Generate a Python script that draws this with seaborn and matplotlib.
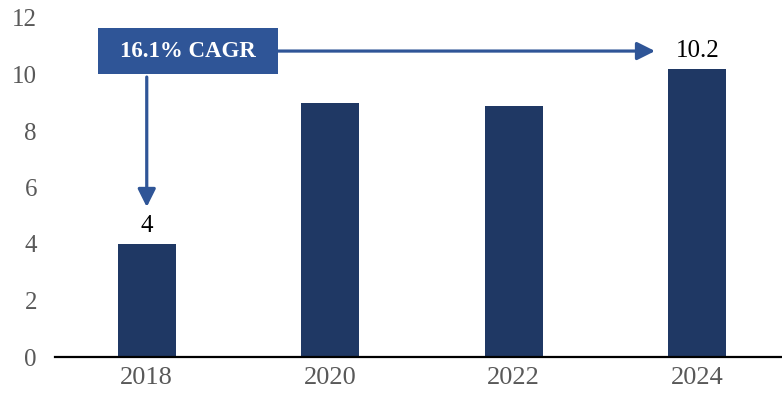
import matplotlib
matplotlib.use("Agg")
import matplotlib.pyplot as plt
import seaborn as sns
import pandas as pd
from matplotlib.patches import Rectangle

years = ["2018", "2020", "2022", "2024"]
values = [4.0, 9.0, 8.9, 10.2]
labels = {0: "4", 3: "10.2"}
cagr_text = "16.1% CAGR"
yticks = [0, 2, 4, 6, 8, 10, 12]

sns.set_theme(style="white")
plt.rcParams["font.family"] = ["Liberation Serif", "DejaVu Serif"]

df = pd.DataFrame({"year": years, "value": values})

fig = plt.figure(figsize=(7.82, 3.94), dpi=100)
ax = fig.add_axes([55 / 782, 37 / 394, 734 / 782, 339 / 394])

sns.barplot(data=df, x="year", y="value", color="#1F3864", width=0.316,
            saturation=1, linewidth=0, ax=ax)

ax.set_xlim(-0.5, 3.5)
ax.set_ylim(0, 12)
ax.set_yticks(yticks)
ax.set_xlabel("")
ax.set_ylabel("")
for s in ["left", "right", "top"]:
    ax.spines[s].set_visible(False)
ax.spines["bottom"].set_color("black")
ax.spines["bottom"].set_linewidth(1.6)
ax.tick_params(axis="both", length=0, labelcolor="#595959")
ax.tick_params(axis="y", pad=13, labelsize=18)
ax.tick_params(axis="x", pad=7, labelsize=19)

for i, txt in labels.items():
    ax.text(i, values[i] + 0.62, txt, ha="center", va="center",
            fontsize=18, color="black")

# CAGR box
box_x0, box_x1 = -0.266, 0.715
box_yc, box_h = 10.83, 1.6
ax.add_patch(Rectangle((box_x0, box_yc - box_h / 2), box_x1 - box_x0, box_h,
                       facecolor="#2F5597", edgecolor="none", zorder=4,
                       clip_on=False))
ax.text((box_x0 + box_x1) / 2, box_yc, cagr_text, ha="center", va="center",
        fontsize=16.5, fontweight="bold", color="white", zorder=5)

arrow_kw = dict(arrowstyle="-|>,head_length=0.9,head_width=0.45",
                color="#2F5597", lw=2.3, shrinkA=0, shrinkB=0)
# horizontal arrow to last bar label
ax.annotate("", xy=(2.77, box_yc), xytext=(box_x1, box_yc),
            arrowprops=arrow_kw, zorder=3)
# vertical arrow to first bar label
ax.annotate("", xy=(0, values[0] + 1.31), xytext=(0, box_yc - box_h / 2 - 0.12),
            arrowprops=arrow_kw, zorder=3)

fig.savefig("out.png", dpi=100)
